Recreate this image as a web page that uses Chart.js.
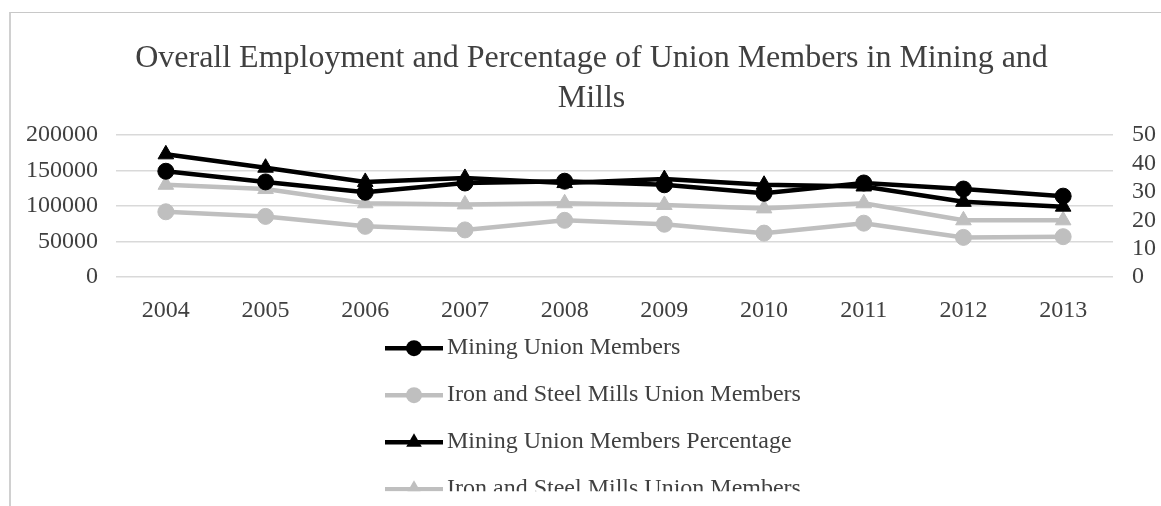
<!DOCTYPE html>
<html>
<head>
<meta charset="utf-8">
<script src="https://cdn.jsdelivr.net/npm/chart.js@4.4.1/dist/chart.umd.min.js"></script>
<style>
  html, body { margin: 0; padding: 0; background: #fff; overflow: hidden; }
  #frame { position: absolute; left: 9px; top: 12px; width: 1300px; height: 600px;
           border-left: 2px solid #d0d0d0; border-top: 1px solid #c8c8c8; }
  #chart { position: absolute; left: 0; top: 0; }
</style>
</head>
<body>
<div id="frame"></div>
<canvas id="chart" width="1161" height="506"></canvas>
<script>
// Данные графика
const years = ['2004', '2005', '2006', '2007', '2008', '2009', '2010', '2011', '2012', '2013'];
const miningMembers = [149000, 134000, 119500, 132500, 135000, 130000, 118000, 132500, 124000, 114000];
const ironSteelMembers = [92000, 85500, 71500, 66500, 80000, 74500, 62000, 76000, 56000, 57000];
const miningPct = [43.2, 38.5, 33.5, 34.9, 33.1, 34.5, 32.5, 31.9, 26.5, 24.8];
const ironSteelPct = [32.5, 31, 26, 25.6, 26, 25.4, 24.2, 26, 20, 20];
const seriesNames = [
    'Mining Union Members',
    'Iron and Steel Mills Union Members',
    'Mining Union Members Percentage',
    'Iron and Steel Mills Union Members'
];
const titleLines = ['Overall Employment and Percentage of Union Members in Mining and', 'Mills'];

const FONT = '"Liberation Serif", "Times New Roman", serif';
const TEXT = '#404040';
const BLACK = '#000000';
const GRAY = '#bfbfbf';

function series(label, data, color, style, axis) {
    return {
        label,
        data,
        yAxisID: axis,
        borderColor: color,
        backgroundColor: color,
        borderWidth: 4.5,
        pointStyle: style,
        pointRadius: style === 'triangle' ? 9 : 8,
        pointBorderWidth: 1,
        pointBorderColor: color,
        pointBackgroundColor: color,
        tension: 0
    };
}

// Легенда в столбик под графиком (низ обрезан, как в оригинале)
const stackedLegend = {
    id: 'stackedLegend',
    afterDraw(chart) {
        const ctx = chart.ctx;
        const x0 = 385;
        ctx.save();
        ctx.beginPath();
        ctx.rect(0, chart.chartArea.bottom + 40, chart.width, 174);
        ctx.clip();
        chart.data.datasets.forEach((ds, i) => {
            const y = chart.chartArea.bottom + 71 + i * 47;
            ctx.strokeStyle = ds.borderColor;
            ctx.lineWidth = 4.5;
            ctx.beginPath();
            ctx.moveTo(x0, y);
            ctx.lineTo(x0 + 58, y);
            ctx.stroke();
            ctx.fillStyle = ds.borderColor;
            Chart.helpers.drawPoint(ctx, {
                pointStyle: ds.pointStyle, radius: ds.pointRadius, rotation: 0, borderWidth: 0
            }, x0 + 29, y);
            ctx.fillStyle = TEXT;
            ctx.font = '24px ' + FONT;
            ctx.textBaseline = 'middle';
            ctx.textAlign = 'left';
            ctx.fillText(ds.label, x0 + 62, y);
        });
        ctx.restore();
    }
};

new Chart(document.getElementById('chart').getContext('2d'), {
    type: 'line',
    data: {
        labels: years,
        datasets: [
            series(seriesNames[0], miningMembers, BLACK, 'circle', 'y'),
            series(seriesNames[1], ironSteelMembers, GRAY, 'circle', 'y'),
            series(seriesNames[2], miningPct, BLACK, 'triangle', 'y2'),
            series(seriesNames[3], ironSteelPct, GRAY, 'triangle', 'y2')
        ]
    },
    options: {
        responsive: false,
        animation: false,
        layout: { padding: { top: 39, left: 8, right: -14, bottom: 170 } },
        plugins: {
            legend: { display: false },
            tooltip: { enabled: false },
            title: {
                display: true,
                text: titleLines,
                color: TEXT,
                font: { family: FONT, size: 32, weight: 'normal', lineHeight: 1.25 },
                padding: { top: 0, bottom: 16 }
            }
        },
        scales: {
            x: {
                offset: true,
                grid: { display: false, offset: true },
                border: { display: false },
                ticks: { color: TEXT, padding: 11, autoSkip: false, maxRotation: 0, font: { family: FONT, size: 24 } }
            },
            y: {
                position: 'left',
                min: 0,
                max: 200000,
                grid: { color: '#d9d9d9', lineWidth: 1.5, drawTicks: false },
                border: { display: false },
                ticks: {
                    stepSize: 50000,
                    autoSkip: false,
                    padding: 18,
                    color: TEXT,
                    font: { family: FONT, size: 24 },
                    callback: v => String(v)
                }
            },
            y2: {
                position: 'right',
                min: 0,
                max: 50,
                grid: { drawOnChartArea: false, drawTicks: false },
                border: { display: false },
                ticks: { stepSize: 10, autoSkip: false, padding: 19, color: TEXT, font: { family: FONT, size: 24 } }
            }
        }
    },
    plugins: [stackedLegend]
});
</script>
</body>
</html>
